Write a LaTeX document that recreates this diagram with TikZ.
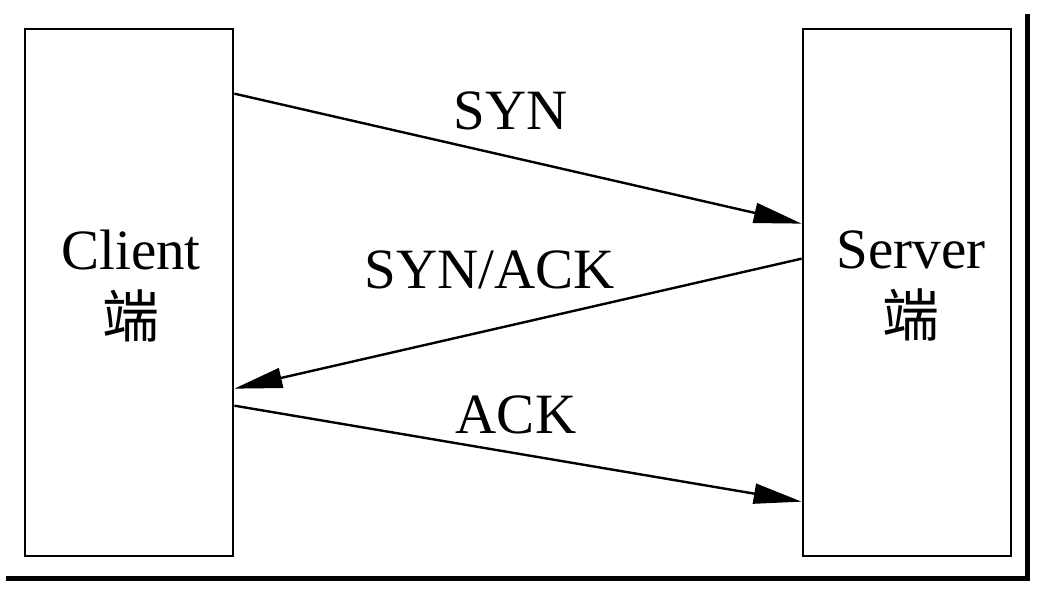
\documentclass[tikz,border=0pt]{standalone}
\usepackage{fontspec}
\setmainfont{Liberation Serif}
\newfontfamily\cjk{Noto Sans CJK SC}
\usetikzlibrary{arrows.meta}
\tikzset{
  hostbox/.style = {draw = black, line width = 2.7pt, rectangle, minimum width = 208pt, minimum height = 527pt, inner sep = 0pt},
  hostname/.style = {align = center, font = \fontsize{57}{68}\selectfont, inner sep = 0pt},
  msg/.style = {draw = black, line width = 2.4pt, -{Triangle[length = 48pt, width = 20pt]}},
  msglabel/.style = {font = \fontsize{57}{68}\selectfont, inner sep = 0pt, anchor = base}
}
\begin{document}
\begin{tikzpicture}[x = 1pt, y = -1pt]
\useasboundingbox (0,0) rectangle (1044,598);
\node[hostbox] (client) at (129,292.5) {};
\node[hostbox] (server) at (907,292.5) {};
\node[hostname] (clientname) at (131,286) {Client\\{\cjk 端}};
\node[hostname] (servername) at (911,286) {Server\\{\cjk 端}};
% handshake
\draw[msg] ([yshift = -66pt]client.north east) -- ([yshift = -196pt]server.north west);
\draw[msg] ([yshift = -231pt]server.north west) -- ([yshift = -361pt]client.north east);
\draw[msg] ([yshift = -378pt]client.north east) -- ([yshift = -474pt]server.north west);
\node[msglabel] (syn) at (511,129) {SYN};
\node[msglabel] (synack) at (490,288) {SYN/ACK};
\node[msglabel] (ack) at (516,433) {ACK};
% frame
\draw[line width = 5pt] (1027,14) -- (1027,578) -- (6,578);
\end{tikzpicture}
\end{document}
